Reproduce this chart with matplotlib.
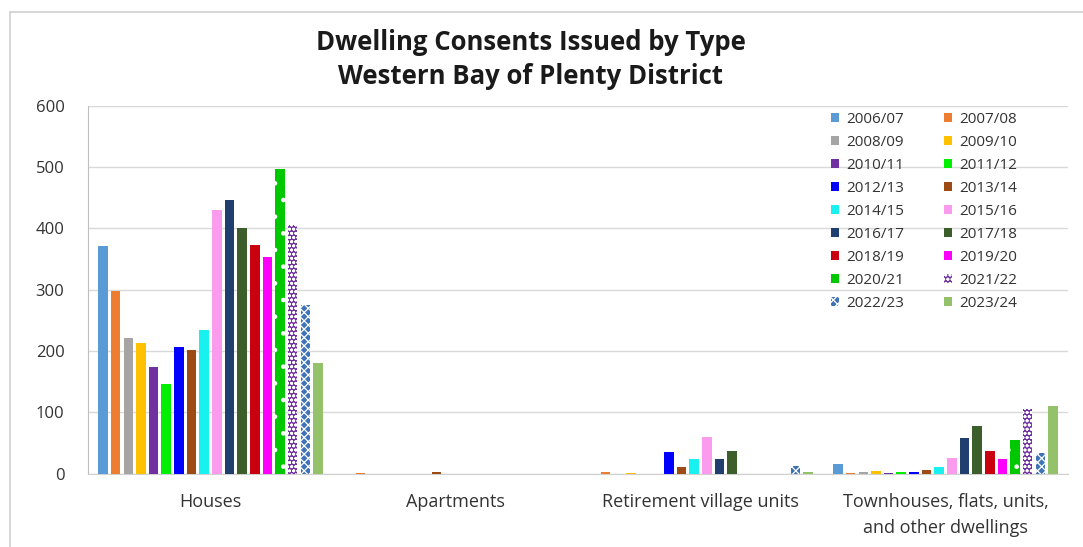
import matplotlib
matplotlib.use("Agg")
import matplotlib.pyplot as plt
from matplotlib.patches import Rectangle, Patch
import numpy as np

plt.rcParams['font.family'] = ['Open Sans', 'DejaVu Sans']
plt.rcParams['hatch.linewidth'] = 0.9

categories = ["Houses", "Apartments", "Retirement village units",
              "Townhouses, flats, units,\nand other dwellings"]
years = ["2006/07", "2007/08", "2008/09", "2009/10", "2010/11", "2011/12",
         "2012/13", "2013/14", "2014/15", "2015/16", "2016/17", "2017/18",
         "2018/19", "2019/20", "2020/21", "2021/22", "2022/23", "2023/24"]

houses = [372, 298, 222, 213, 174, 146, 206, 201, 234, 430, 446, 401, 373, 354, 497, 405, 275, 181]
apartments = [0, 1, 0, 0, 0, 0, 0, 3, 0, 0, 0, 0, 0, 0, 0, 0, 0, 0]
retirement = [0, 2, 0, 1, 0, 0, 35, 10, 24, 59, 24, 37, 0, 0, 0, 0, 13, 3]
townhouses = [16, 1, 2, 4, 1, 2, 2, 6, 11, 26, 58, 77, 37, 24, 54, 105, 33, 111]

colors = ["#5B9BD5", "#ED7D31", "#A5A5A5", "#FFC000", "#7030A0", "#00EE00",
          "#0000FF", "#9E4A14", "#19F0F0", "#FA9BEE", "#203F6E", "#3B5E2B",
          "#C80010", "#FF00FF", "#00C800", "#7030A0", "#3F73B8", "#93C26A"]
hatches = [None] * 14 + [".", "oooo", "xxxx", None]

series = np.array([houses, apartments, retirement, townhouses]).T  # years x categories

fig = plt.figure(figsize=(10.83, 5.47), dpi=100)
fig.patches.append(Rectangle((10 / 1083, -0.05), 1.1, 1.05 - 12 / 547,
                             transform=fig.transFigure, fill=False,
                             edgecolor="#D0D0D0", linewidth=1.2))

ax = fig.add_axes([88 / 1083, 1 - 473.5 / 547, 980 / 1083, (473.5 - 106) / 547])

x = np.arange(len(categories))
slot = 0.0516
bw = 0.039
handles = []
for i, yr in enumerate(years):
    offs = (i - 8.5) * slot
    if hatches[i]:
        kw = dict(hatch=hatches[i], edgecolor="white", linewidth=0)
    else:
        kw = dict(linewidth=0)
    ax.bar(x + offs, series[i], width=bw, color=colors[i], zorder=3, **kw)
    handles.append(Patch(facecolor=colors[i], label=yr, **kw))

ax.set_xlim(-0.5, 3.5)
ax.set_ylim(0, 600)
ax.set_yticks(range(0, 601, 100))
ax.set_xticks(x)
ax.set_xticklabels(categories, fontsize=13, color="#333333", linespacing=1.6)
ax.tick_params(axis="y", length=0, pad=17, labelsize=12, labelcolor="#333333")
ax.tick_params(axis="x", length=0, pad=14)
ax.grid(axis="y", color="#D9D9D9", linewidth=1, zorder=0)
for s in ["top", "right"]:
    ax.spines[s].set_visible(False)
ax.spines["left"].set_color("#BFBFBF")
ax.spines["bottom"].set_color("#D0D0D0")

order = list(range(0, 18, 2)) + list(range(1, 18, 2))
leg = ax.legend([handles[i] for i in order], [years[i] for i in order],
                ncol=2, loc="upper left",
                bbox_to_anchor=(831 / 1083, 1 - 112 / 547), bbox_transform=fig.transFigure,
                frameon=False, fontsize=11, handlelength=0.55, handleheight=0.55,
                handletextpad=0.45, columnspacing=2.6, labelspacing=0.52, borderpad=0,
                borderaxespad=0)
for t in leg.get_texts():
    t.set_color("#333333")

fig.text(531 / 1083, 1 - 42 / 547, "Dwelling Consents Issued by Type", ha="center", va="center",
         fontsize=18.5, fontweight="bold", color="#1a1a1a")
fig.text(531 / 1083, 1 - 77 / 547, "Western Bay of Plenty District", ha="center", va="center",
         fontsize=18.5, fontweight="bold", color="#1a1a1a")

fig.savefig("out.png", dpi=100)
